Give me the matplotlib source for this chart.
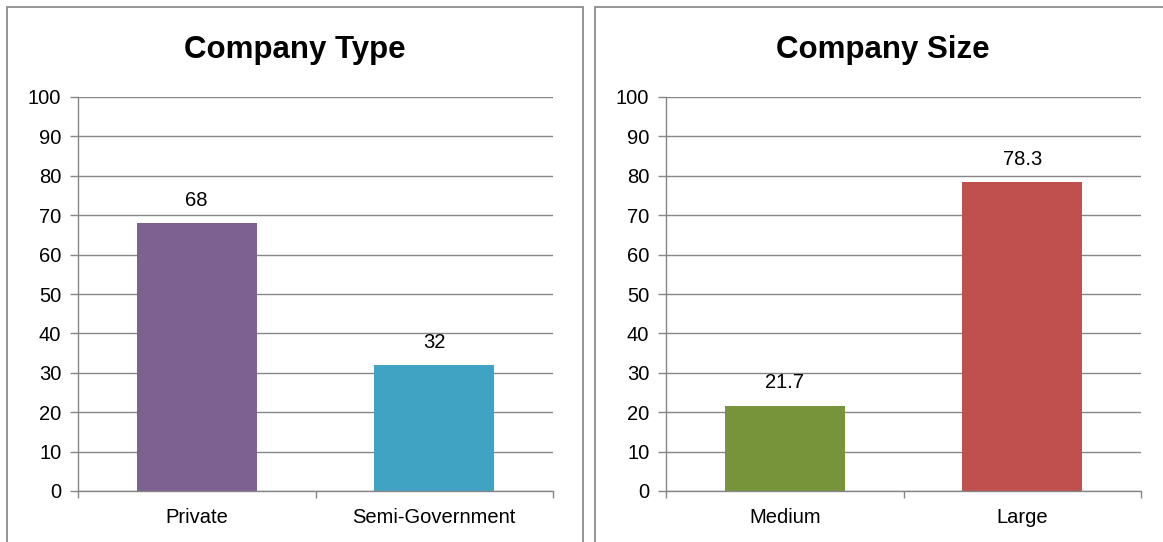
import matplotlib
matplotlib.use("Agg")
import matplotlib.pyplot as plt
from matplotlib.patches import Rectangle

plt.rcParams['font.family'] = ['Liberation Sans', 'DejaVu Sans']

type_cats = ["Private", "Semi-Government"]
type_vals = [68, 32]
type_labels = ["68", "32"]
type_colors = ["#7D6190", "#40A3C4"]

size_cats = ["Medium", "Large"]
size_vals = [21.7, 78.3]
size_labels = ["21.7", "78.3"]
size_colors = ["#77943B", "#C0504E"]

yticks = [0, 10, 20, 30, 40, 50, 60, 70, 80, 90, 100]

W, H = 1163, 542
fig = plt.figure(figsize=(W / 100, H / 100), dpi=100)
fig.patch.set_facecolor("white")

# panel borders
border_col = "#8C8C8C"
fig.add_artist(Rectangle((7 / W, -0.05), (583 - 7) / W, 1.05 - 7 / H,
                         transform=fig.transFigure, fill=False,
                         edgecolor=border_col, linewidth=1.3))
fig.add_artist(Rectangle((595 / W, -0.05), 0.6, 1.05 - 7 / H,
                         transform=fig.transFigure, fill=False,
                         edgecolor=border_col, linewidth=1.3))

grid_col = "#868686"
FS = 14.5

def draw(left_px, cats, vals, labels, colors, title, title_x_px):
    ax = fig.add_axes([left_px / W, 1 - 491 / H, 475 / W, (491 - 97) / H])
    x = list(range(len(cats)))
    ax.bar(x, vals, width=0.505, color=colors, zorder=3)
    ax.set_xlim(-0.5, len(cats) - 0.5)
    ax.set_ylim(0, 100)
    ax.set_yticks(yticks)
    ax.set_yticklabels([str(t) for t in yticks], fontsize=FS)
    ax.set_xticks(x)
    ax.set_xticklabels(cats, fontsize=FS)
    ax.set_xticks([i - 0.5 for i in range(len(cats) + 1)], minor=True)
    ax.tick_params(axis='x', which='major', length=0, pad=12.5)
    ax.tick_params(axis='x', which='minor', length=5, color=grid_col, width=1)
    ax.tick_params(axis='y', length=6, color=grid_col, width=1, pad=6)
    ax.grid(axis='y', color=grid_col, linewidth=1, zorder=0)
    for s in ['top', 'right']:
        ax.spines[s].set_visible(False)
    for s in ['left', 'bottom']:
        ax.spines[s].set_color(grid_col)
        ax.spines[s].set_linewidth(1)
    ax.spines['bottom'].set_zorder(4)
    for xi, v, lab in zip(x, vals, labels):
        ax.annotate(lab, (xi, v), xytext=(0, 16.5), textcoords='offset points',
                    ha='center', va='center', fontsize=FS)
    fig.text(title_x_px / W, 1 - 58 / H, title, ha='center', va='baseline',
             fontsize=22.5, fontweight='bold')
    return ax

draw(78, type_cats, type_vals, type_labels, type_colors, "Company Type", 295)
draw(666, size_cats, size_vals, size_labels, size_colors, "Company Size", 883)

fig.savefig("out.png", dpi=100, facecolor="white")
